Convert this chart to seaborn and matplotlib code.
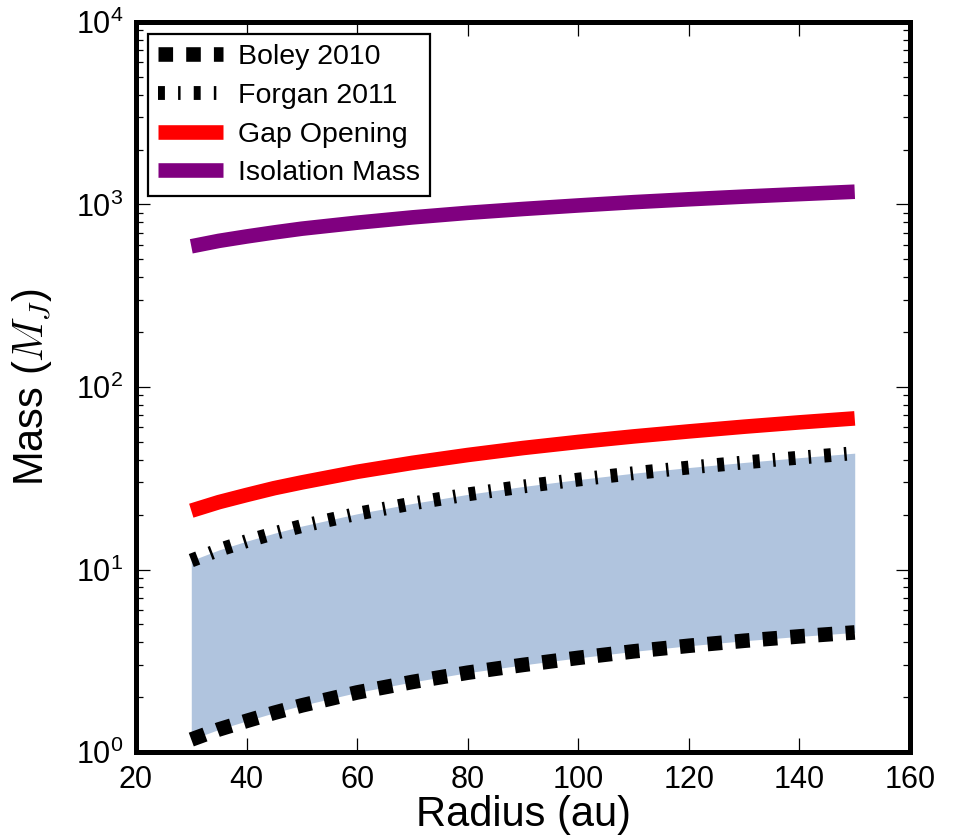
import matplotlib
matplotlib.use("Agg")
import matplotlib.pyplot as plt
import seaborn as sns
import numpy as np
import pandas as pd
from matplotlib.ticker import LogLocator, FixedLocator

radius = [30, 35, 40, 45, 50, 60, 70, 80, 90, 100, 110, 120, 130, 140, 150]
boley = [1.17, 1.33, 1.48, 1.64, 1.80, 2.12, 2.42, 2.72, 3.00, 3.28, 3.56, 3.82, 4.07, 4.30, 4.52]
forgan = [11.2, 12.8, 14.3, 15.8, 17.3, 20.2, 23.0, 25.8, 28.5, 31.1, 33.7, 36.2, 38.6, 41.0, 43.4]
gap = [21.0, 23.4, 25.6, 27.9, 30.0, 34.3, 38.4, 42.4, 46.3, 50.0, 53.6, 57.1, 60.6, 64.0, 67.3]
isolation = [590, 632, 668, 703, 737, 795, 850, 900, 945, 988, 1030, 1068, 1105, 1140, 1175]

labels = ["Boley 2010", "Forgan 2011", "Gap Opening", "Isolation Mass"]
xticks = [20, 40, 60, 80, 100, 120, 140, 160]

sns.set_style("ticks")
plt.rcParams["font.family"] = ["Liberation Sans", "DejaVu Sans"]
plt.rcParams["mathtext.fontset"] = "cm"
plt.rcParams["text.color"] = "black"
plt.rcParams["axes.labelcolor"] = "black"
plt.rcParams["xtick.color"] = "black"
plt.rcParams["ytick.color"] = "black"

fig = plt.figure(figsize=(9.56, 8.38), dpi=100)
ax = fig.add_axes([136 / 956, 1 - 752 / 838, 774 / 956, 730 / 838])

df = pd.DataFrame({"r": radius, "boley": boley, "forgan": forgan,
                   "gap": gap, "iso": isolation})

ax.fill_between(df["r"], df["boley"], df["forgan"], color="#b0c4de", lw=0, zorder=1)

lw = 10.5
sns.lineplot(data=df, x="r", y="boley", ax=ax, color="black", lw=lw, label=labels[0], zorder=3)
ax.lines[-1].set_dashes((1.0, 0.9))
ax.lines[-1].set_dash_capstyle("butt")
sns.lineplot(data=df, x="r", y="forgan", ax=ax, color="black", lw=lw * 0.95, label=labels[1], zorder=3)
ax.lines[-1].set_dashes((0.5, 0.95, 0.18, 0.95))
ax.lines[-1].set_dash_capstyle("butt")
sns.lineplot(data=df, x="r", y="gap", ax=ax, color="#ff0000", lw=lw, label=labels[2], zorder=3)
sns.lineplot(data=df, x="r", y="iso", ax=ax, color="#800080", lw=lw, label=labels[3], zorder=3)
for ln in ax.lines:
    ln.set_solid_capstyle("butt")

ax.set_yscale("log")
ax.set_ylim(1, 1e4)
ax.set_xlim(20, 160)
ax.xaxis.set_major_locator(FixedLocator(xticks))
ax.yaxis.set_major_locator(LogLocator(base=10, numticks=10))
ax.yaxis.set_minor_locator(LogLocator(base=10, subs=np.arange(2, 10), numticks=50))

ax.set_xlabel("Radius (au)", fontsize=30, labelpad=0, color="black")
ax.set_ylabel("Mass ($M_J$)", fontsize=30, labelpad=16, color="black")

ax.tick_params(which="both", direction="in", top=True, right=True, colors="black",
               labelsize=22, width=0.9)
ax.tick_params(which="major", length=10, pad=9)
ax.tick_params(which="minor", length=5)
for s in ax.spines.values():
    s.set_visible(True)
    s.set_linewidth(3.6)
    s.set_color("black")

leg = ax.legend(loc="upper left", fontsize=20.5, frameon=True, fancybox=False,
                edgecolor="black", framealpha=1, handlelength=2.3, handletextpad=0.5,
                labelspacing=0.45, borderpad=0.35, borderaxespad=0.42)
leg.get_frame().set_linewidth(1.6)
for t in leg.get_texts():
    t.set_color("black")

fig.savefig("out.png", dpi=100)
